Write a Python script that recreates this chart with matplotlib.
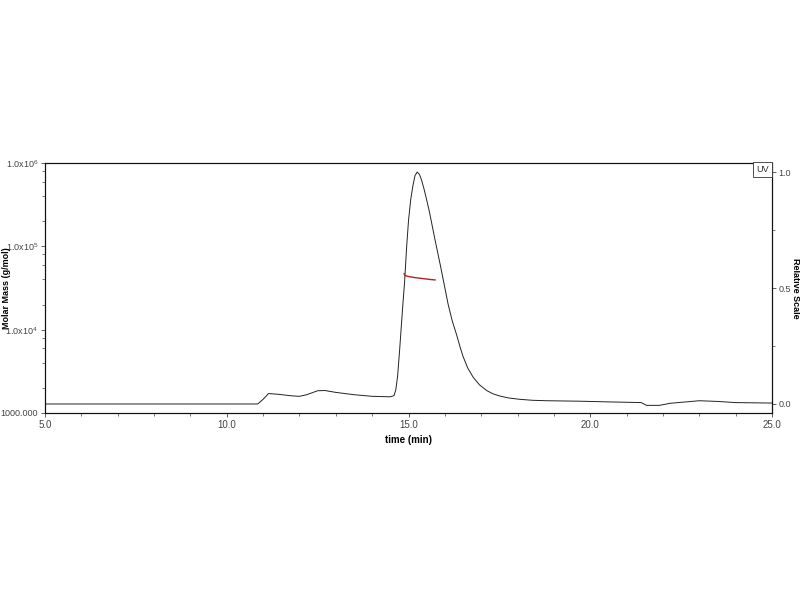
import numpy as np
import matplotlib
matplotlib.use('Agg')
import matplotlib.pyplot as plt
from matplotlib.ticker import FixedLocator, FixedFormatter, MultipleLocator, LogLocator, NullFormatter

# UV trace (relative scale)
uv_time = [5.0, 10.85, 11.0, 11.15, 11.4, 11.8, 12.0, 12.2, 12.5, 12.7, 13.0, 13.5, 14.0,
           14.5, 14.6, 14.65, 14.7, 14.75, 14.8, 14.85, 14.89, 14.95, 15.0, 15.06, 15.12,
           15.18, 15.24, 15.3, 15.36, 15.43, 15.5, 15.58, 15.65, 15.72, 15.8, 15.88,
           15.95, 16.02, 16.09, 16.2, 16.33, 16.42, 16.5, 16.63, 16.78, 16.95, 17.15,
           17.32, 17.52, 17.75, 18.07, 18.4, 18.8, 19.7, 20.5,
           21.4, 21.55, 21.9, 22.2, 23.0, 23.5, 24.0, 25.0]
uv_rel = [0.0, 0.0, 0.02, 0.045, 0.042, 0.035, 0.033, 0.04, 0.057, 0.058, 0.05, 0.04, 0.033,
          0.031, 0.036, 0.06, 0.12, 0.22, 0.33, 0.44, 0.52, 0.68, 0.79, 0.88, 0.94,
          0.985, 1.0, 0.99, 0.965, 0.925, 0.88, 0.825, 0.77, 0.715, 0.655, 0.595,
          0.54, 0.485, 0.43, 0.36, 0.295, 0.245, 0.205, 0.155, 0.115, 0.083, 0.058,
          0.044, 0.034, 0.026, 0.02, 0.016, 0.014, 0.012, 0.009,
          0.006, -0.006, -0.006, 0.003, 0.014, 0.011, 0.006, 0.004]

# molar mass across the peak
mm_time = [14.88, 14.9, 14.95, 15.05, 15.2, 15.4, 15.6, 15.73]
mm_mass = [47000, 45000, 44000, 43000, 42000, 41000, 40000, 39500]

x_ticks = [5.0, 10.0, 15.0, 20.0, 25.0]
x_labels = ['5.0', '10.0', '15.0', '20.0', '25.0']
y_ticks = [1e3, 1e4, 1e5, 1e6]
y_labels = ['1000.000', r'1.0x10$^{4}$', r'1.0x10$^{5}$', r'1.0x10$^{6}$']
r_ticks = [0.0, 0.5, 1.0]
r_labels = ['0.0', '0.5', '1.0']

plt.rcParams['font.family'] = ['Liberation Sans', 'DejaVu Sans']
plt.rcParams['mathtext.fontset'] = 'custom'
plt.rcParams['mathtext.rm'] = 'Liberation Sans'
plt.rcParams['mathtext.default'] = 'rm'
tick_col = '#444444'

fig = plt.figure(figsize=(8, 6), dpi=100)
ax = fig.add_axes([0.05625, 0.3117, 0.90875, 0.4166])
ax2 = ax.twinx()

ax2.plot(uv_time, uv_rel, color='#222222', lw=0.7)
ax.plot(mm_time, mm_mass, color='#b22222', lw=1.0, zorder=5)
ax.set_zorder(ax2.get_zorder() + 1)
ax.patch.set_visible(False)

ax.set_xlim(5, 25)
ax.set_yscale('log')
ax.set_ylim(1e3, 1e6)
ax2.set_ylim(-0.0388, 1.0388)

ax.xaxis.set_major_locator(FixedLocator(x_ticks))
ax.xaxis.set_major_formatter(FixedFormatter(x_labels))
ax.xaxis.set_minor_locator(MultipleLocator(1.0))
ax.yaxis.set_major_locator(FixedLocator(y_ticks))
ax.yaxis.set_major_formatter(FixedFormatter(y_labels))
ax.yaxis.set_minor_locator(LogLocator(base=10, subs=(2, 4, 6, 8)))
ax.yaxis.set_minor_formatter(NullFormatter())
ax2.yaxis.set_major_locator(FixedLocator(r_ticks))
ax2.yaxis.set_major_formatter(FixedFormatter(r_labels))
ax2.yaxis.set_minor_locator(MultipleLocator(0.25))

for a in (ax, ax2):
    a.tick_params(which='major', length=3, width=0.6, labelsize=6.5, colors=tick_col, pad=2)
    a.tick_params(which='minor', length=2, width=0.5, colors=tick_col)
    for s in a.spines.values():
        s.set_linewidth(0.8)
        s.set_color('#111111')
ax.tick_params(axis='x', labelsize=7)
ax2.tick_params(axis='y', which='major', pad=1.5)

ax.set_xlabel('time (min)', fontsize=7, fontweight='bold')
ax.xaxis.set_label_coords(0.5, -0.088)
ax.set_ylabel('Molar Mass (g/mol)', fontsize=6.5, fontweight='bold', va='center')
ax.yaxis.set_label_coords(-0.053, 0.5)
ax2.set_ylabel('Relative Scale', fontsize=6.5, fontweight='bold', rotation=-90, va='center')
ax2.yaxis.set_label_coords(1.032, 0.5)

ax.text(0.9955, 0.993, 'UV', transform=ax.transAxes, ha='right', va='top', fontsize=6.5,
        color='#333333',
        bbox=dict(boxstyle='square,pad=0.35', fc='white', ec='#333333', lw=0.6))

fig.savefig('out.png', dpi=100)
